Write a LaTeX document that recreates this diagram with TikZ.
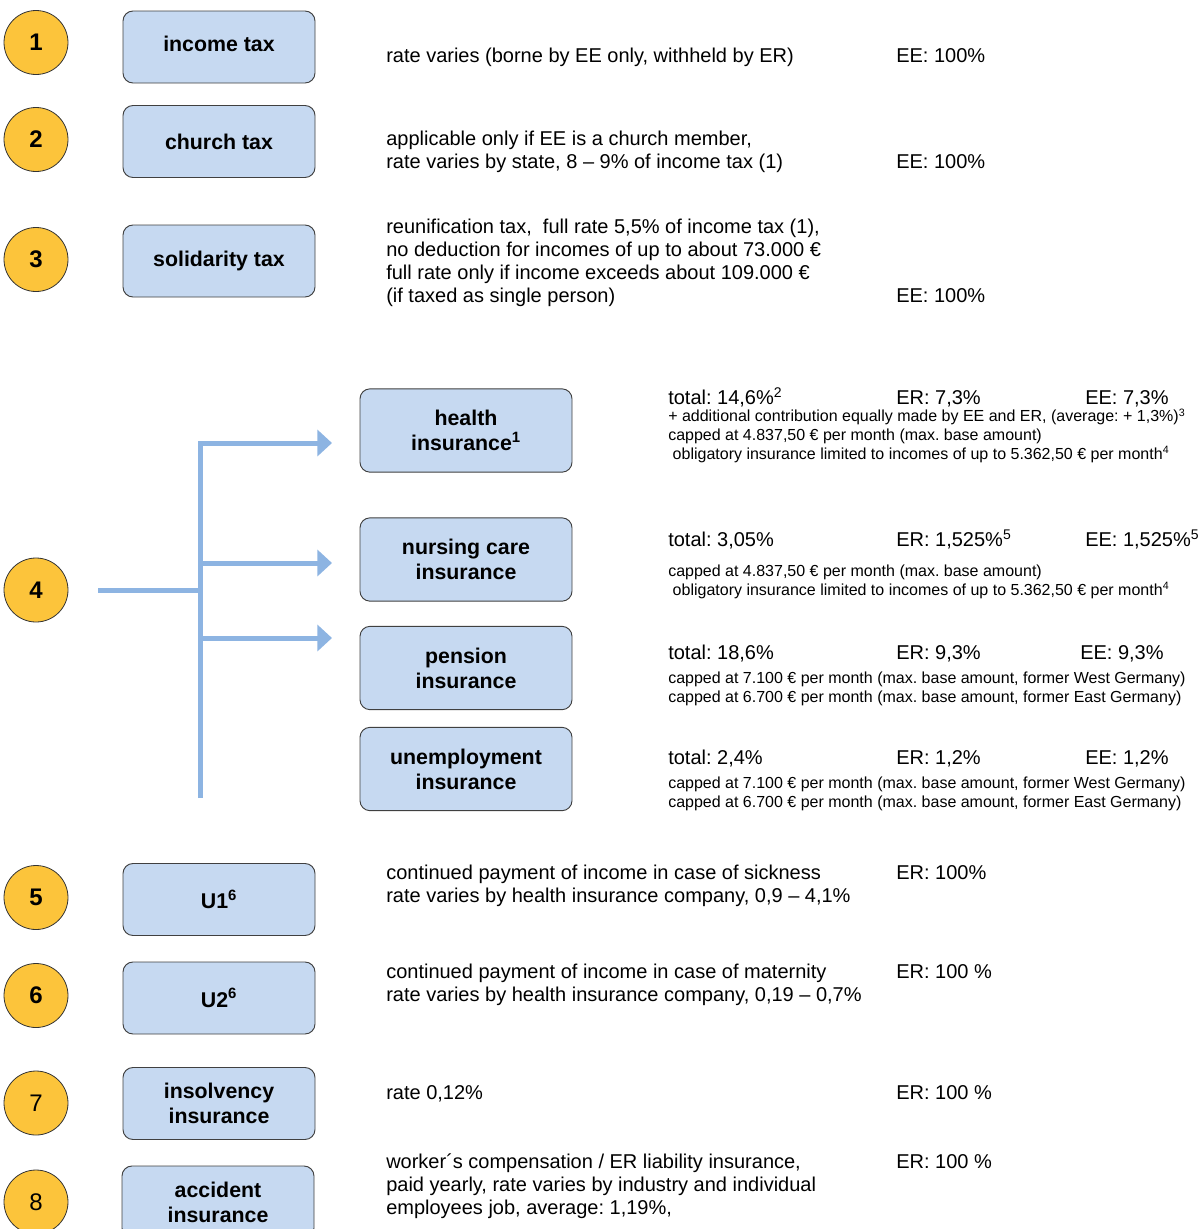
\documentclass[tikz,border=0pt]{standalone}
\usepackage{fontspec}
\setmainfont{Liberation Sans}
\usetikzlibrary{arrows.meta,positioning}
\frenchspacing

\definecolor{numfill}{HTML}{FCC43B}
\definecolor{boxfill}{HTML}{C6D9F1}
\definecolor{flowblue}{HTML}{8DB4E2}

\tikzset{
  num/.style={circle, draw=black!80, fill=numfill, minimum size=48pt, inner sep=0pt,
    line width=0.6pt, font=\fontsize{18}{20}\selectfont\bfseries},
  numplain/.style={num, font=\fontsize{18}{20}\selectfont},
  item/.style={draw=black!75, fill=boxfill, rounded corners=7.5pt, line width=0.7pt,
    minimum width=144pt, minimum height=54pt, align=center,
    font=\fontsize{16}{18.75}\selectfont\bfseries},
  subitem/.style={item, minimum width=159pt, minimum height=62.5pt},
  % multi-line texts sit on the baseline of their last line
  desc/.style={anchor=base west, inner sep=0pt, align=left, font=\fontsize{15}{17.25}\selectfont},
  note/.style={anchor=base west, inner sep=0pt, align=left, font=\fontsize{12}{13.9}\selectfont},
  flow/.style={draw=flowblue, line width=3.75pt},
  flowarrow/.style={flow, -{Triangle[length=11pt,width=19.5pt]}}
}

\begin{document}
\begin{tikzpicture}[x=0.75pt, y=-0.75pt]
    \useasboundingbox (0,0) rectangle (1201,1229);

    % NUMBERS
    % -----------------
    \node[num] (n1) at (36,42.5) {1};
    \node[num] (n2) at (36,139.5) {2};
    \node[num] (n3) at (36,259.5) {3};
    \node[num] (n4) at (36,590) {4};
    \node[num] (n5) at (36,897.5) {5};
    \node[num] (n6) at (36,995.5) {6};
    \node[numplain] (n7) at (36,1103) {7};
    \node[numplain] (n8) at (36,1202) {8};

    % BOXES
    % -----------------
    \node[item] (income) at (219,47) {\raisebox{5pt}{income tax}};
    \node[item] (church) at (219,141.5) {church tax};
    \node[item] (soli) at (219,261) {solidarity tax};

    \node[subitem] (health) at (466,430.5) {health\\insurance\textsuperscript{1}};
    \node[subitem] (nursing) at (466,559.5) {nursing care\\insurance};
    \node[subitem] (pension) at (466,668) {pension\\insurance};
    \node[subitem] (unemp) at (466,769) {unemployment\\insurance};

    \node[item] (uone) at (219,899.5) {U1\textsuperscript{6}};
    \node[item] (utwo) at (219,998) {U2\textsuperscript{6}};
    \node[item] (insolv) at (219,1103.5) {insolvency\\insurance};
    \node[item] (accident) at (218,1202) {accident\\insurance};

    % TEXTS
    % -----------------
    \node[desc] (income_d) at (386,62) {rate varies (borne by EE only, withheld by ER)};
    \node[desc] (income_s) at (896,62) {EE: 100\%};

    \node[desc] (church_d) at (386,168) {applicable only if EE is a church member,\\rate varies by state, 8 -- 9\% of income tax (1)};
    \node[desc] (church_s) at (896,168) {EE: 100\%};

    \node[desc] (soli_d) at (386,302) {reunification tax,\ \ full rate 5,5\% of income tax (1),\\no deduction for incomes of up to about 73.000 €\\full rate only if income exceeds about 109.000 €\\(if taxed as single person)};
    \node[desc] (soli_s) at (896,302) {EE: 100\%};

    % health
    \node[desc] (health_t) at (668,404) {total: 14,6\%\textsuperscript{2}};
    \node[desc] (health_er) at (896,404) {ER: 7,3\%};
    \node[desc] (health_ee) at (1085,404) {EE: 7,3\%};
    \node[note] (health_d) at (668,459) {+ additional contribution equally made by EE and ER, (average: + 1,3\%)\textsuperscript{3}\\capped at 4.837,50 € per month (max. base amount)\\\ obligatory insurance limited to incomes of up to 5.362,50 € per month\textsuperscript{4}};

    % nursing care
    \node[desc] (nursing_t) at (668,546) {total: 3,05\%};
    \node[desc] (nursing_er) at (896,546) {ER: 1,525\%\textsuperscript{5}};
    \node[desc] (nursing_ee) at (1085,546) {EE: 1,525\%\textsuperscript{5}};
    \node[note] (nursing_d) at (668,595.5) {capped at 4.837,50 € per month (max. base amount)\\\ obligatory insurance limited to incomes of up to 5.362,50 € per month\textsuperscript{4}};

    % pension
    \node[desc] (pension_t) at (668,659) {total: 18,6\%};
    \node[desc] (pension_er) at (896,659) {ER: 9,3\%};
    \node[desc] (pension_ee) at (1080,659) {EE: 9,3\%};
    \node[note] (pension_d) at (668,702.5) {capped at 7.100 € per month (max. base amount, former West Germany)\\capped at 6.700 € per month (max. base amount, former East Germany)};

    % unemployment
    \node[desc] (unemp_t) at (668,764) {total: 2,4\%};
    \node[desc] (unemp_er) at (896,764) {ER: 1,2\%};
    \node[desc] (unemp_ee) at (1085,764) {EE: 1,2\%};
    \node[note] (unemp_d) at (668,807.5) {capped at 7.100 € per month (max. base amount, former West Germany)\\capped at 6.700 € per month (max. base amount, former East Germany)};

    \node[desc] (uone_d) at (386,902) {continued payment of income in case of sickness\\rate varies by health insurance company, 0,9 -- 4,1\%};
    \node[desc] (uone_s) at (896,879) {ER: 100\%};

    \node[desc] (utwo_d) at (386,1001) {continued payment of income in case of maternity\\rate varies by health insurance company, 0,19 -- 0,7\%};
    \node[desc] (utwo_s) at (896,978) {ER: 100 \%};

    \node[desc] (insolv_d) at (386,1099) {rate 0,12\%};
    \node[desc] (insolv_s) at (896,1099) {ER: 100 \%};

    \node[desc] (accident_d) at (386,1214) {worker´s compensation / ER liability insurance,\\paid yearly, rate varies by industry and individual\\employees job, average: 1,19\%,};
    \node[desc] (accident_s) at (896,1168) {ER: 100 \%};

    % EDGES
    % -----------------
    \coordinate (stub) at (98,590);
    \coordinate (join) at (200,590);
    \coordinate (bottom) at (200,798);
    \coordinate (corner) at (200,443);
    \coordinate (j2) at (200,563);
    \coordinate (j3) at (200,638);
    \coordinate (tip1) at (332,443);
    \coordinate (tip2) at (332,563);
    \coordinate (tip3) at (332,638);

    \draw[flow] (stub) -- (join);
    \draw[flowarrow] (bottom) -- (corner) -- (tip1);
    \draw[flowarrow] (j2) -- (tip2);
    \draw[flowarrow] (j3) -- (tip3);

\end{tikzpicture}
\end{document}
